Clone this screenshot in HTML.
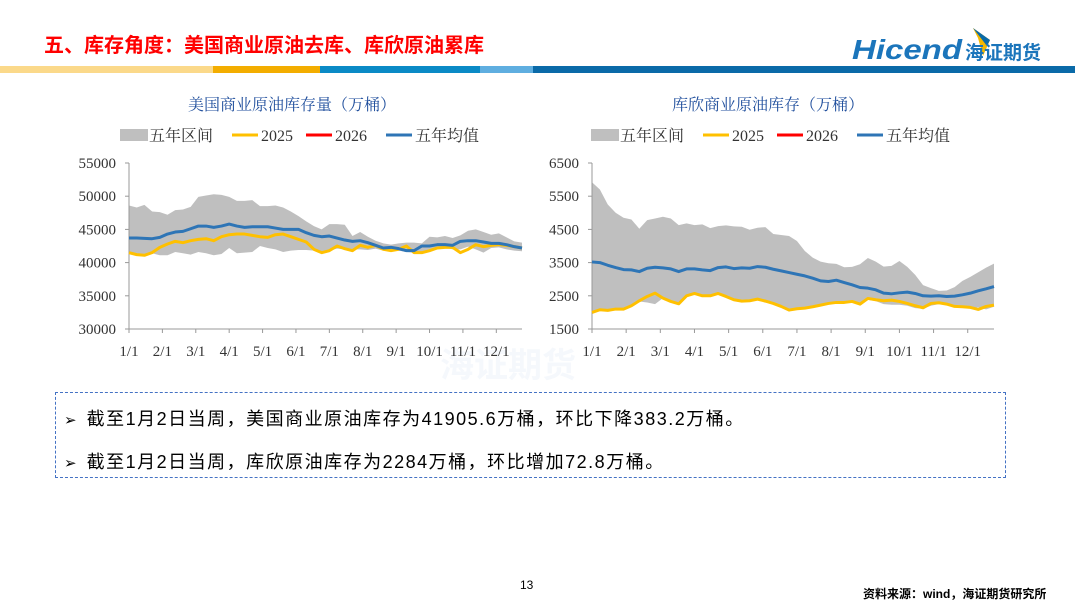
<!DOCTYPE html>
<html><head><meta charset="utf-8"><style>
body{margin:0;width:1080px;height:607px;background:#fff;overflow:hidden;position:relative;font-family:"Liberation Sans","Noto Sans CJK SC",sans-serif}
.abs{position:absolute}
</style></head><body>
<div class="abs" style="left:44px;top:29px;font-size:20px;font-weight:bold;color:#f00;letter-spacing:0px">五、库存角度：美国商业原油去库、库欣原油累库</div>
<div class="abs" style="left:852px;top:26px;width:200px;height:38px">
<svg width="200" height="38"><polygon points="121,2 138,14 131,30 126,12" fill="#f5b800"/><polygon points="121,2 138,14 135,20" fill="#0a6aa8"/>
<text x="0" y="33" font-family="Liberation Sans,sans-serif" font-size="28" font-style="italic" font-weight="bold" fill="#1b75bb" textLength="110" lengthAdjust="spacingAndGlyphs">Hicend</text>
<text x="113" y="33" font-family="Liberation Sans,'Noto Sans CJK SC',sans-serif" font-size="19" font-weight="bold" fill="#1b75bb">海证期货</text></svg></div>
<div class="abs" style="left:0;top:66px;width:1075px;height:7px;display:flex">
<div style="width:213px;background:#fbd98a"></div><div style="width:107px;background:#f3ad00"></div><div style="width:160px;background:#0a8ac6"></div><div style="width:53px;background:#5faee0"></div><div style="width:542px;background:#0a6aa8"></div></div>
<div class="abs" style="left:440px;top:338px;font-size:34px;color:#f5f8fc;font-weight:bold">海证期货</div>
<svg id="charts" class="abs" style="left:0;top:0" width="1080" height="380"></svg>
<div class="abs" style="left:55px;top:392px;width:949px;height:84px;border:1.5px dashed #4472c4;font-size:18px;color:#000">
<div style="position:absolute;left:8px;top:12px"><span style="font-size:15px">➢</span>&nbsp; <span style="letter-spacing:1.5px">截至1月2日当周，美国商业原油库存为41905.6万桶，环比下降383.2万桶。</span></div>
<div style="position:absolute;left:8px;top:55px"><span style="font-size:15px">➢</span>&nbsp; <span style="letter-spacing:1.5px">截至1月2日当周，库欣原油库存为2284万桶，环比增加72.8万桶。</span></div></div>
<div class="abs" style="left:520px;top:578px;font-size:12px">13</div>
<div class="abs" style="left:863px;top:585px;font-size:12px;font-weight:bold">资料来源：wind，海证期货研究所</div>
<script>
const months=["1/1","2/1","3/1","4/1","5/1","6/1","7/1","8/1","9/1","10/1","11/1","12/1"];
const usTicks=[30000,35000,40000,45000,50000,55000];
const usMean=[43700,43700,43650,43600,43800,44300,44600,44700,45100,45500,45500,45300,45500,45800,45500,45300,45400,45400,45400,45200,45000,45000,45000,44500,44100,43900,44000,43700,43400,43200,43300,43000,42600,42200,42300,42100,41800,41800,42500,42500,42700,42700,42600,43200,43300,43300,43100,42900,42900,42700,42400,42200];
const us2025=[41500,41200,41100,41500,42300,42800,43200,43000,43300,43500,43600,43300,43900,44200,44300,44300,44100,43900,43800,44200,44300,43900,43500,43100,42000,41500,41800,42500,42100,41800,42600,42300,42600,42000,41800,42000,42500,41500,41500,41800,42200,42300,42300,41500,42000,42700,42400,42600,42700,42600,42400,42200];
const usHigh=[48600,48300,48700,47700,47600,47200,47900,48000,48400,49900,50100,50300,50200,49900,49300,49300,49400,48500,48500,48600,48300,47700,47000,46200,45500,45000,45800,45800,45700,44000,44600,43900,43300,42900,42700,42900,43000,43000,42900,43900,43800,44000,43700,44100,44800,45000,44600,44200,44400,43800,43200,43000];
const usLow=[41300,41100,41100,41400,41100,41100,41600,41400,41200,41600,41400,41100,41300,42200,41400,41500,41600,42500,42200,42000,41600,41800,41900,41900,41800,41700,41800,42100,42000,42000,42000,41900,42100,41800,41700,41800,41600,41500,41600,41800,42000,42300,42000,42000,42400,42000,41500,42200,42300,42000,41800,41700];
const cuTicks=[1500,2500,3500,4500,5500,6500];
const cuMean=[3520,3500,3420,3350,3290,3280,3230,3330,3360,3340,3310,3230,3310,3310,3280,3260,3350,3370,3320,3340,3330,3380,3360,3300,3250,3200,3150,3100,3030,2950,2930,2970,2900,2830,2750,2730,2680,2580,2560,2590,2610,2570,2500,2490,2500,2480,2490,2530,2580,2650,2710,2780];
const cu2025=[2000,2080,2060,2100,2100,2200,2350,2480,2580,2430,2330,2260,2500,2570,2500,2500,2570,2480,2380,2340,2350,2400,2340,2270,2180,2070,2110,2130,2170,2220,2270,2300,2300,2330,2250,2420,2380,2350,2370,2330,2270,2200,2140,2270,2290,2250,2180,2170,2150,2090,2180,2220];
const cuHigh=[5920,5700,5250,5000,4850,4800,4520,4780,4830,4880,4830,4630,4680,4630,4650,4540,4600,4620,4590,4580,4490,4550,4570,4360,4330,4300,4150,3850,3650,3530,3480,3460,3360,3370,3450,3640,3530,3380,3400,3550,3370,3130,2820,2730,2650,2660,2760,2950,3070,3210,3350,3470];
const cuLow=[1990,2060,2060,2100,2100,2200,2330,2300,2250,2430,2330,2250,2480,2560,2500,2490,2560,2480,2380,2330,2340,2380,2300,2250,2170,2070,2110,2130,2170,2220,2270,2300,2300,2330,2250,2380,2340,2250,2230,2230,2200,2130,2110,2200,2250,2230,2170,2170,2130,2150,2090,2170];
const NS="http://www.w3.org/2000/svg";
const svg=document.getElementById('charts');
function mk(tag,attrs,parent){const e=document.createElementNS(NS,tag);for(const k in attrs)e.setAttribute(k,attrs[k]);(parent||svg).appendChild(e);return e;}
const serif='"Liberation Serif","Noto Serif CJK SC",serif';
function chart(cfg){
 const g=mk('g',{});
 
 
 const x0=cfg.x0,x1=cfg.x1,yT=163,yB=329;
 const t=cfg.ticks,mn=t[0],mx=t[t.length-1];
 const n=cfg.mean.length;
 const X=i=>x0+(x1-x0)*i/(n-1);
 const Y=v=>yB-(v-mn)/(mx-mn)*(yB-yT);
 const tt=mk('text',{x:cfg.cx,y:110,'text-anchor':'middle','font-size':16,fill:'#1f4e9c','font-family':serif},g);tt.textContent=cfg.title;
 
 const lg=mk('g',{},g);
 const lx=cfg.lx;
 mk('rect',{x:lx,y:129,width:28,height:12,fill:'#bfbfbf'},lg);
 const items=[["五年区间",0],["2025",'#ffc000'],["2026",'#ff0000'],["五年均值",'#2e75b6']];
 const offs=[0,112,186,266];
 items.forEach((it,k)=>{const ox=lx+offs[k];if(k>0)mk('line',{x1:ox,y1:135,x2:ox+26,y2:135,stroke:it[1],'stroke-width':3},lg);
  const tx=mk('text',{x:ox+29,y:141,'font-size':16,fill:'#333','font-family':serif},lg);tx.textContent=it[0];
  });
 let d='M';for(let i=0;i<n;i++)d+=X(i)+','+Y(cfg.high[i])+' L';for(let i=n-1;i>=0;i--)d+=X(i)+','+Y(cfg.low[i])+(i?' L':' Z');
 const band=mk('path',{d:d,fill:'#bfbfbf'},g);
 mk('line',{x1:x0,y1:yT,x2:x0,y2:yB,stroke:'#999','stroke-width':1},g);
 mk('line',{x1:x0,y1:yB,x2:x1,y2:yB,stroke:'#999','stroke-width':1},g);
 t.forEach(v=>{mk('line',{x1:x0-4,y1:Y(v),x2:x0,y2:Y(v),stroke:'#999'},g);
  const l=mk('text',{x:x0-13,y:Y(v)+5,'text-anchor':'end','font-size':15,fill:'#333','font-family':serif},g);l.textContent=v;
  });
 months.forEach((m,k)=>{const xi=x0+(x1-x0)*(k*52/12)/(n-1);mk('line',{x1:xi,y1:yB,x2:xi,y2:yB+4,stroke:'#999'},g);
  const l=mk('text',{x:xi,y:356,'text-anchor':'middle','font-size':15,fill:'#333','font-family':serif},g);l.textContent=m;
  });
 const line=(arr,col,name)=>{const p=mk('polyline',{points:arr.map((v,i)=>X(i)+','+Y(v)).join(' '),fill:'none',stroke:col,'stroke-width':3,'stroke-linejoin':'round'},g);
  };
 line(cfg.y25,'#ffc000','series-2025');
 line(cfg.mean,'#2e75b6','series-five-year-mean');
}
chart({name:'us-crude-chart',x0:129,x1:522,cx:292,lx:120,title:'美国商业原油库存量（万桶）',ticks:usTicks,mean:usMean,y25:us2025,high:usHigh,low:usLow});
chart({name:'cushing-chart',x0:592,x1:994,cx:768,lx:591,title:'库欣商业原油库存（万桶）',ticks:cuTicks,mean:cuMean,y25:cu2025,high:cuHigh,low:cuLow});
</script>
</body></html>
